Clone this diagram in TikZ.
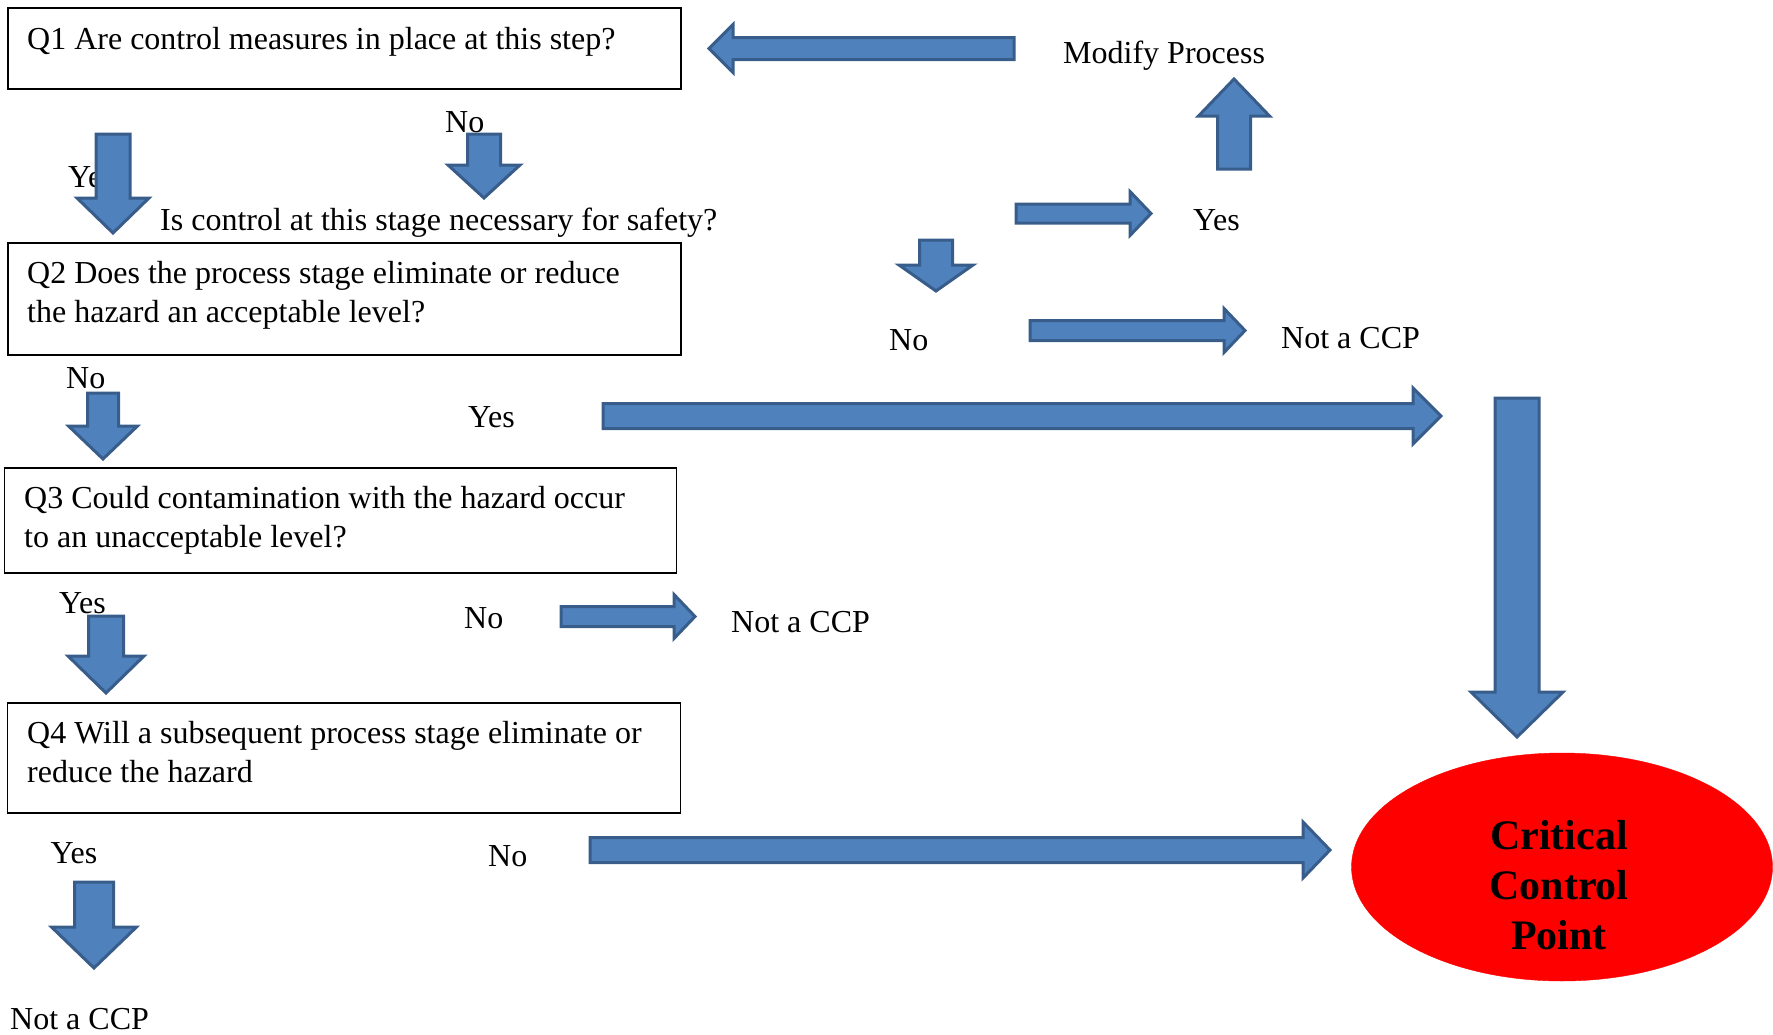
\documentclass[tikz,border=0pt]{standalone}
\usepackage{fontspec}
\setmainfont{Liberation Serif}
\usetikzlibrary{calc,shapes.geometric}
\definecolor{arrfill}{HTML}{4F81BD}
\definecolor{arrline}{HTML}{385D8A}
\definecolor{ccpred}{HTML}{FF0000}
\tikzset{
  blk/.style={fill=arrfill, draw=arrline, line width=3pt, line join=miter},
  qbox/.style={draw=black, line width=1.8pt, rectangle, anchor=north west, inner sep=0pt, outer sep=0pt},
  lbl/.style={anchor=base west, inner sep=0pt, font=\fontsize{32}{38.5}\selectfont},
  qtext/.style={lbl, align=left},
}
% block arrow from tail coordinate #1 to tip coordinate #2;
% #3 shaft half width, #4 head half width, #5 head length (pt)
\newcommand\barrow[5]{%
  \coordinate (hb) at ($(#2)!#5pt!(#1)$);
  \draw[blk] ($(#1)!#3pt!90:(#2)$) -- ($(hb)!#3pt!90:(#2)$) -- ($(hb)!#4pt!90:(#2)$)
    -- (#2) -- ($(hb)!#4pt!-90:(#2)$) -- ($(hb)!#3pt!-90:(#2)$) -- ($(#1)!#3pt!-90:(#2)$) -- cycle;}
\begin{document}
\begin{tikzpicture}[x=1pt,y=-1pt]
\useasboundingbox (0,0) rectangle (1773,1034);

% question boxes
\node[qbox, minimum width=673pt, minimum height=81pt] (q1) at (8,8) {};
\node[qbox, minimum width=673pt, minimum height=112pt] (q2) at (8,243) {};
\node[qbox, minimum width=672pt, minimum height=105pt] (q3) at (4.5,468) {};
\node[qbox, minimum width=673pt, minimum height=110pt] (q4) at (7.5,703) {};

% (base anchor of a two-line text is the baseline of its last line)
\node[qtext] (q1t) at (27,49) {Q1 Are control measures in place at this step?};
\node[qtext] (q2t) at (27,322) {Q2 Does the process stage eliminate or reduce\\the hazard an acceptable level?};
\node[qtext] (q3t) at (24,547) {Q3 Could contamination with the hazard occur\\to an unacceptable level?};
\node[qtext] (q4t) at (27,782) {Q4 Will a subsequent process stage eliminate or\\reduce the hazard};

% labels
\node[lbl] (l1no) at (445,132) {No};
\node[lbl] (l1yes) at (68,187) {Yes};
\node[lbl] (lsafe) at (160,230) {Is control at this stage necessary for safety?};
\node[lbl] (lmod) at (1063,63) {Modify Process};
\node[lbl] (lsyes) at (1193,230) {Yes};
\node[lbl] (lsno) at (889,350) {No};
\node[lbl] (lnot1) at (1281,348) {Not a CCP};
\node[lbl] (l2no) at (66,388) {No};
\node[lbl] (l2yes) at (468,427) {Yes};
\node[lbl] (l3yes) at (59,613) {Yes};
\node[lbl] (l3no) at (464,628) {No};
\node[lbl] (lnot2) at (731,632) {Not a CCP};
\node[lbl] (l4yes) at (50.5,863) {Yes};
\node[lbl] (l4no) at (488,866) {No};
\node[lbl] (lnot3) at (10,1029) {Not a CCP};

% critical control point
\node[ellipse, fill=ccpred, draw=ccpred, minimum width=421pt, minimum height=228pt, inner sep=0pt] (ccp) at (1562,867) {};
\node[align=center, inner sep=0pt, font=\bfseries\fontsize{42}{50}\selectfont] (ccpt) at (1559,885) {Critical\\Control\\Point};

% arrow end points
\coordinate (a1t) at (113,134);   \coordinate (a1p) at (113,233);
\coordinate (a2t) at (484,134);   \coordinate (a2p) at (484,198);
\coordinate (a3t) at (1014,48.5); \coordinate (a3p) at (709,48.5);
\coordinate (a4t) at (1234,169);  \coordinate (a4p) at (1234,79);
\coordinate (a5t) at (1016,213.5);\coordinate (a5p) at (1151,213.5);
\coordinate (a6t) at (936,240);   \coordinate (a6p) at (936,291);
\coordinate (a7t) at (1030,330.5);\coordinate (a7p) at (1245,330.5);
\coordinate (a8t) at (103,393);   \coordinate (a8p) at (103,459);
\coordinate (a9t) at (603,416);   \coordinate (a9p) at (1441,416);
\coordinate (a10t) at (1517,398); \coordinate (a10p) at (1517,737);
\coordinate (a11t) at (106,616);  \coordinate (a11p) at (106,693);
\coordinate (a12t) at (561,616.5);\coordinate (a12p) at (695,616.5);
\coordinate (a13t) at (94,882);   \coordinate (a13p) at (94,968);
\coordinate (a14t) at (590,850);  \coordinate (a14p) at (1330,850);

\barrow{a1t}{a1p}{17}{36}{35}
\barrow{a2t}{a2p}{16.5}{36}{33}
\barrow{a3t}{a3p}{11}{24}{24}
\barrow{a4t}{a4p}{16.5}{35.5}{37}
\barrow{a5t}{a5p}{9.5}{22}{21}
\barrow{a6t}{a6p}{16.5}{37}{26}
\barrow{a7t}{a7p}{10}{22}{21}
\barrow{a8t}{a8p}{15.5}{34.5}{33}
\barrow{a9t}{a9p}{12.5}{28}{28}
\barrow{a10t}{a10p}{22}{46}{45}
\barrow{a11t}{a11p}{17.5}{38}{37}
\barrow{a12t}{a12p}{10}{22}{21}
\barrow{a13t}{a13p}{19.5}{42.5}{41}
\barrow{a14t}{a14p}{12.5}{28}{27}
\end{tikzpicture}
\end{document}
